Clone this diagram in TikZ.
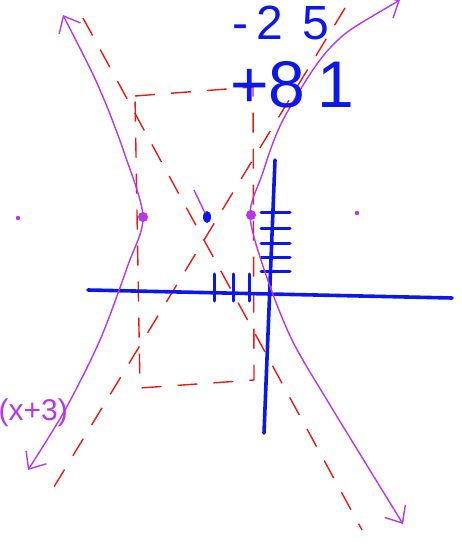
\documentclass[tikz,border=0pt]{standalone}
\usepackage{fontspec}
\setsansfont{Liberation Sans}
\usetikzlibrary{arrows.meta, positioning}

\definecolor{azul}{RGB}{12,24,235}
\definecolor{magenta}{RGB}{185,55,235}
\definecolor{rojo}{RGB}{235,25,20}

\begin{document}
\begin{tikzpicture}[
    x=1pt, y=-1pt,
    eje/.style={draw=azul, line width=3.6pt, line cap=round},
    marca/.style={draw=azul, line width=3pt, line cap=round},
    rama/.style={draw=magenta, line width=1.4pt, <->, >={Straight Barb[length=14pt,width=24pt]}},
    guia/.style={draw=rojo, line width=1.4pt, dash pattern=on 20pt off 16pt},
    texto/.style={font=\sffamily\fontsize{#1}{#1}\selectfont, text=azul, inner sep=0pt}
]
\useasboundingbox (0,0) rectangle (461,553);

% Caja y asintotas (rojo)
\coordinate (cajaA) at (135,96);
\coordinate (cajaB) at (253,87);
\coordinate (cajaC) at (254,380);
\coordinate (cajaD) at (140,388);
\draw [guia] (cajaA) -- (cajaB) -- (cajaC) -- (cajaD) -- cycle;
\draw [guia] (83,18) -- (362,530);
\draw [guia] (345,8) -- (46,500);

% Ejes
\coordinate (ejeIzq) at (88,290);
\coordinate (ejeDer) at (452,298);
\coordinate (ejeArr) at (275,160);
\coordinate (ejeAba) at (264,433);
\draw [eje] (ejeIzq) -- (ejeDer);
\draw [eje] (ejeArr) -- (ejeAba);

% Marcas
\foreach \y in {212,228,243,257,271} \draw [marca] (261,\y) -- (290,\y);
\foreach \x in {214,233,249} \draw [marca] (\x,274) -- (\x,301);

% Centro
\fill [azul] (207,217) ellipse (4pt and 6pt);

% Ramas de la hiperbola
\draw [rama] (63,15) plot[smooth] coordinates {(63,15) (100,90) (125,155) (143,217) (128,265) (100,340) (65,410) (28,470)};
\draw [rama] (400,0) plot[smooth] coordinates {(400,0) (330,48) (283,120) (262,175) (250,216) (266,275) (292,340) (330,405) (403,524)};
\draw [draw=magenta, line width=1.4pt] (194,190) -- (205,213);

% Vertices y focos
\fill [magenta] (143,217) circle (5pt);
\fill [magenta] (251,215) circle (5pt);
\fill [magenta] (18,218) circle (2.2pt);
\fill [magenta] (357,213) circle (2.2pt);

% Textos
\node (menos) [texto=48, anchor=base west] at (232,40) {-\hspace{8pt}2\hspace{20pt}5};
\node (mas) [texto=66, anchor=base west] at (230,108) {+8\hspace{12pt}1};
\node (factor) [font=\sffamily\fontsize{30}{30}\selectfont, text=magenta, inner sep=0pt, anchor=base east] at (68,420) {(x+3)};

\end{tikzpicture}
\end{document}
